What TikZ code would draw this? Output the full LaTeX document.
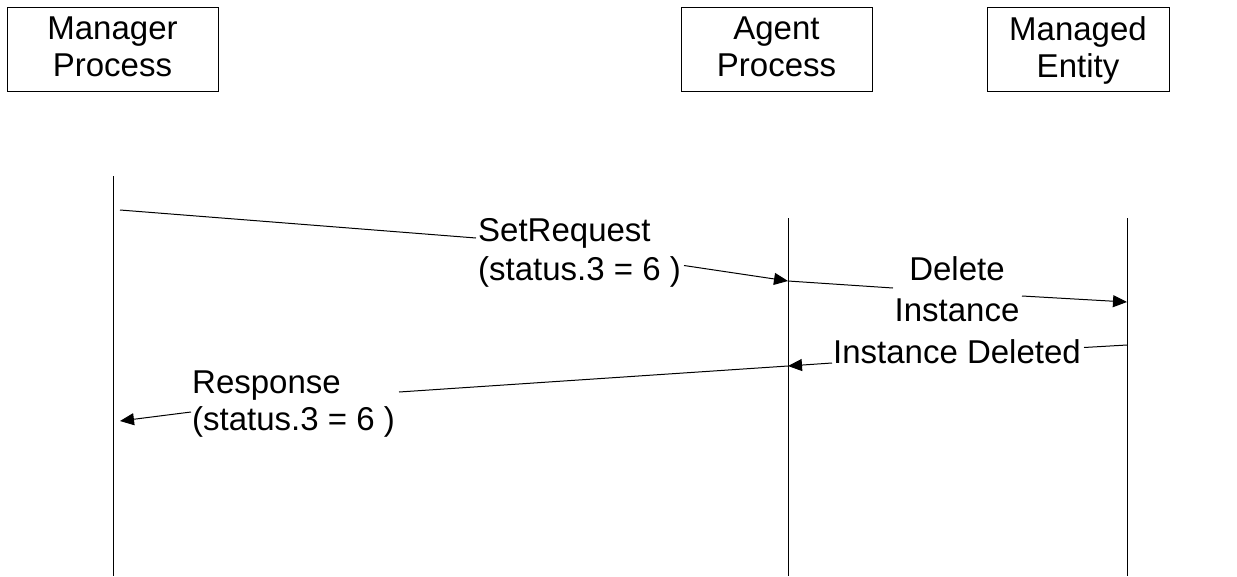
\documentclass[tikz,border=0pt]{standalone}
\usepackage{fontspec}
\setmainfont{Liberation Sans}
\usetikzlibrary{arrows.meta}
\begin{document}
\begin{tikzpicture}[x=1pt,y=-1pt,
  every node/.style={font=\fontsize{33}{39}\selectfont, inner sep=0pt},
  actor/.style={draw, line width=1pt, minimum height=84pt, align=center,
                text depth=4pt, font=\fontsize{33}{37}\selectfont},
  life/.style={line width=1pt},
  msg/.style={line width=1pt},
  tip/.style={-{Triangle[length=14pt,width=12pt]}}]
\useasboundingbox (0,0) rectangle (1237,576);

% participants
\node[actor, minimum width=211pt] (mgr) at (112.5,49) {Manager\\Process};
\node[actor, minimum width=191pt] (agt) at (776.5,49) {Agent\\Process};
\node[actor, minimum width=182pt] (ent) at (1078,49) {Managed\\Entity};

% lifelines
\coordinate (mgrTop) at (113,176);  \coordinate (mgrBot) at (113,576);
\coordinate (agtTop) at (788,218);  \coordinate (agtBot) at (788,576);
\coordinate (entTop) at (1127,218); \coordinate (entBot) at (1127,576);
\draw[life] (mgrTop) -- (mgrBot);
\draw[life] (agtTop) -- (agtBot);
\draw[life] (entTop) -- (entBot);

% SetRequest: manager -> agent (base anchor sits on the last line)
\node[anchor=base west, align=left] (setreq) at (478,280) {SetRequest\\(status.3 = 6 )};
\coordinate (m1s) at (120,210);
\coordinate (m1a) at (476,238);
\coordinate (m1b) at (684,265.5);
\coordinate (m1e) at (788,281);
\draw[msg] (m1s) -- (m1a);
\draw[msg,tip] (m1b) -- (m1e);

% Delete Instance: agent -> entity
\node[anchor=base, align=center, font=\fontsize{33}{41}\selectfont] (delinst) at (957,321) {Delete\\Instance};
\coordinate (m2a) at (893,288);
\coordinate (m2b) at (1022,296);
\coordinate (m2e) at (1127,302);
\draw[msg] (m1e) -- (m2a);
\draw[msg,tip] (m2b) -- (m2e);

% Instance Deleted: entity -> agent
\node[anchor=base] (instdel) at (957,363) {Instance Deleted};
\coordinate (m3s) at (1127,345);
\coordinate (m3a) at (1084,347.5);
\coordinate (m3b) at (832,363);
\coordinate (m3e) at (788,366);
\draw[msg] (m3s) -- (m3a);
\draw[msg,tip] (m3b) -- (m3e);

% Response: agent -> manager
\node[anchor=base west, align=left, font=\fontsize{33}{37}\selectfont] (resp) at (192,430) {Response\\(status.3 = 6 )};
\coordinate (m4a) at (399,392);
\coordinate (m4b) at (191,412);
\coordinate (m4e) at (120,421);
\draw[msg] (m3e) -- (m4a);
\draw[msg,tip] (m4b) -- (m4e);
\end{tikzpicture}
\end{document}
